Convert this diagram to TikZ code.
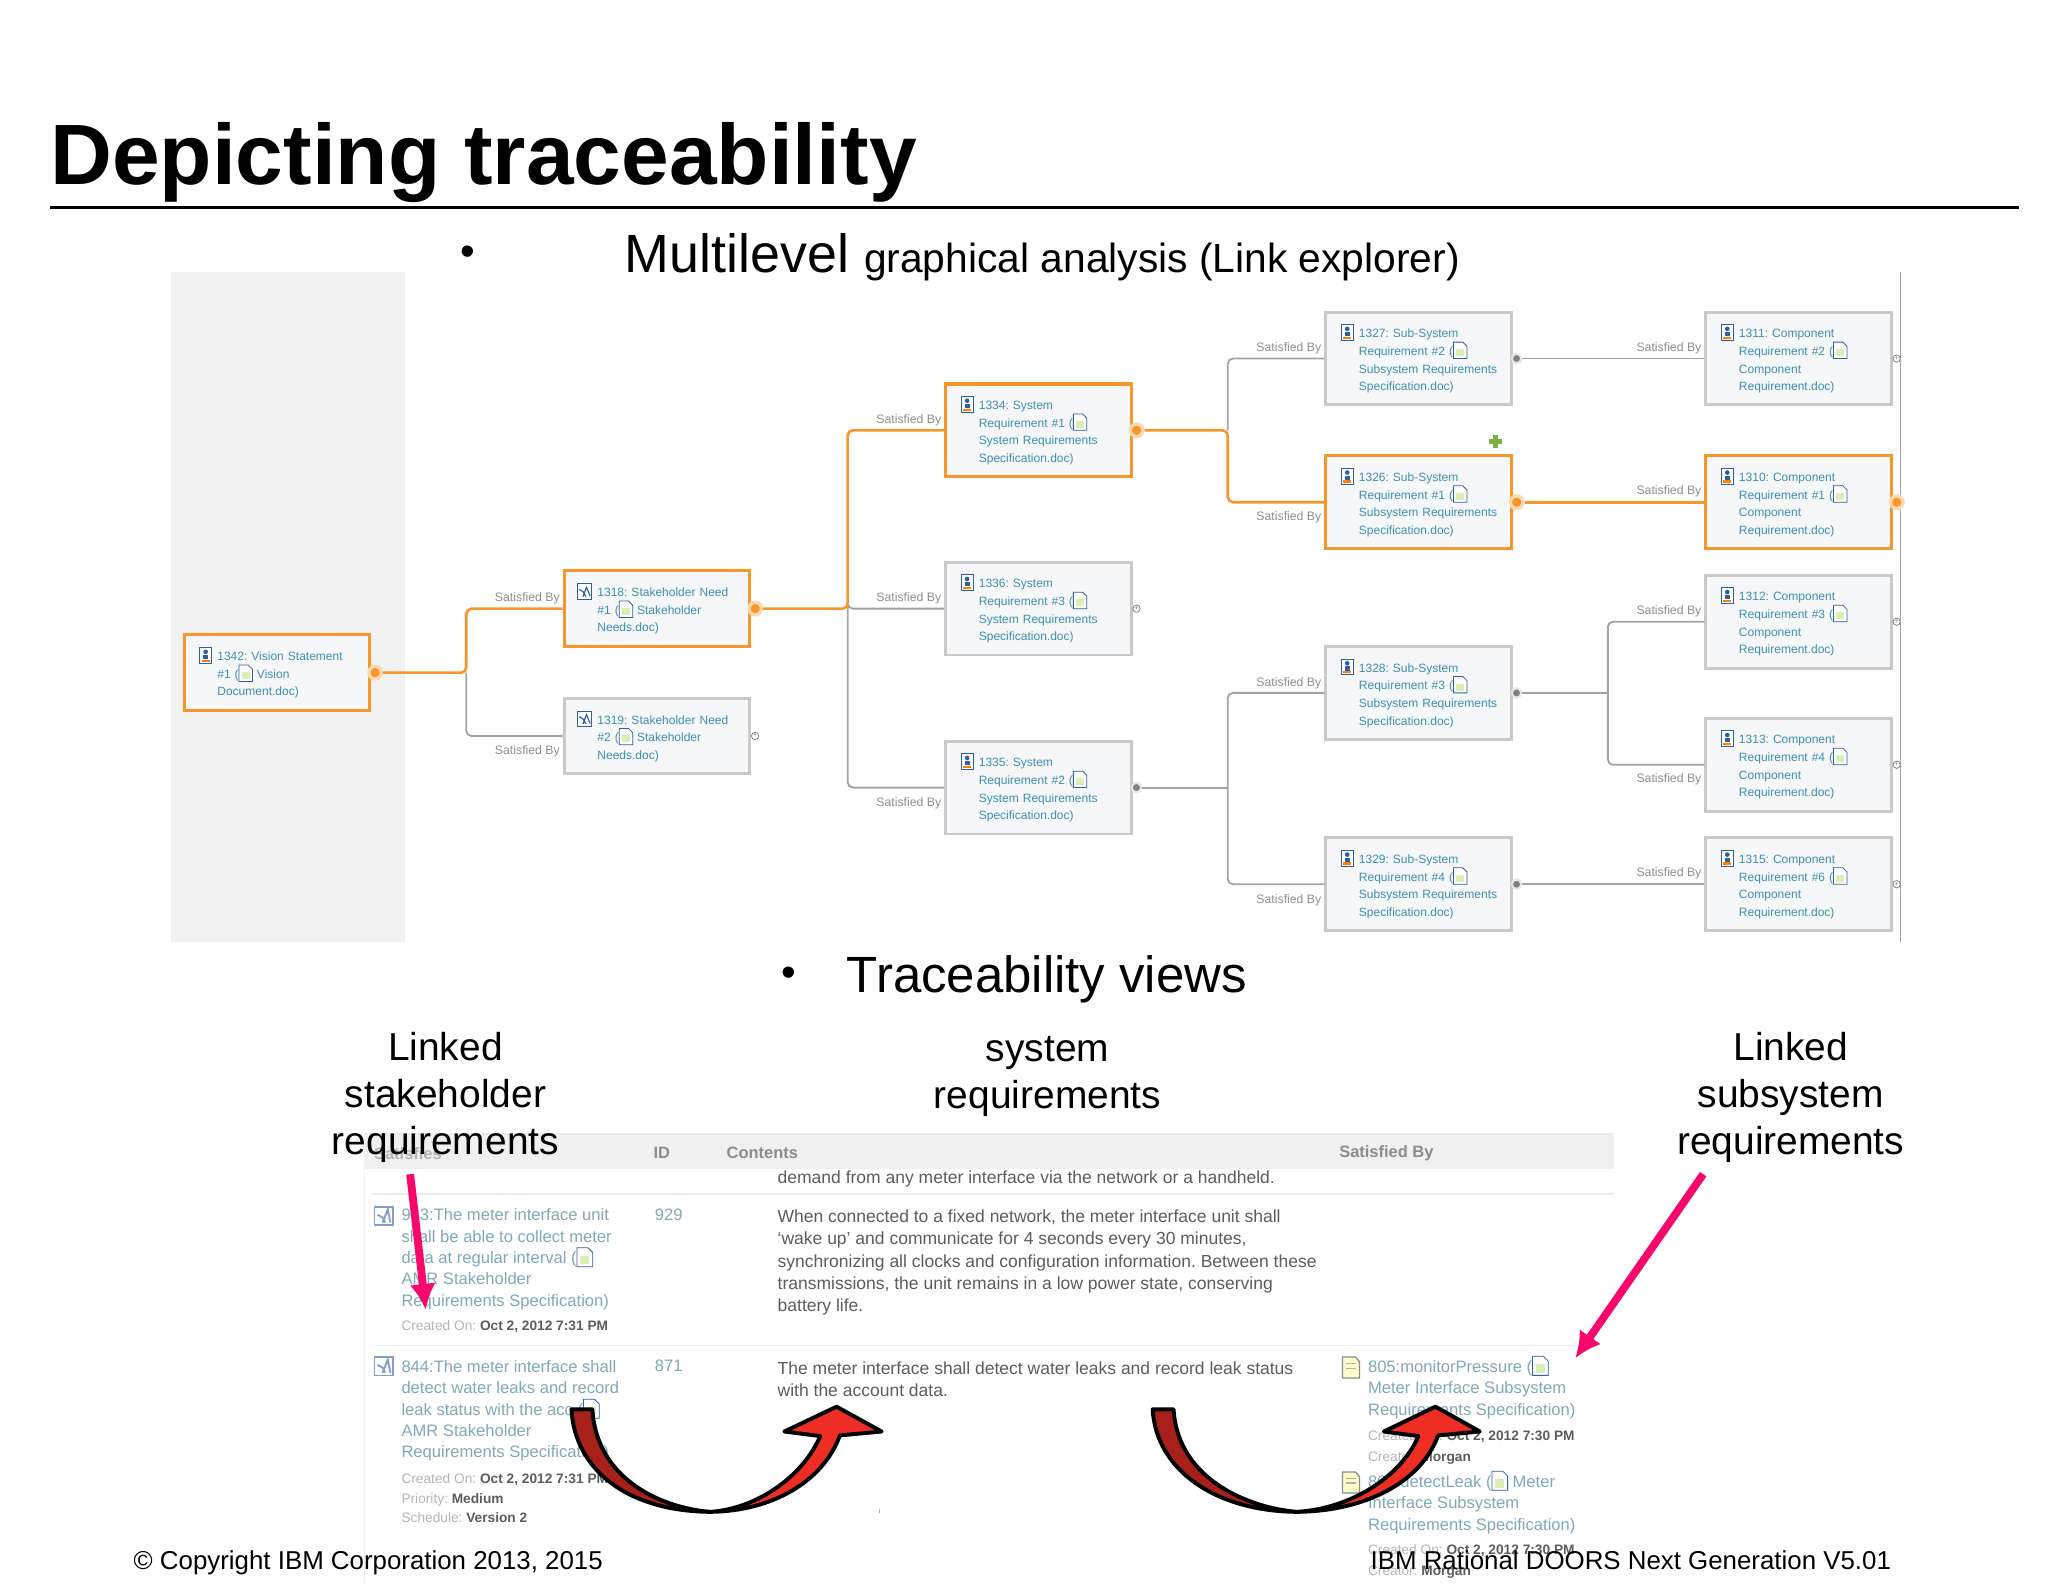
\documentclass[tikz,border=0pt]{standalone}
\usepackage{fontspec}
\setmainfont{Liberation Sans}
\frenchspacing
\usepackage{tikz}
\usetikzlibrary{arrows.meta}

\definecolor{reqgray}{HTML}{C9C9C9}
\definecolor{reqfill}{HTML}{F6F7F8}
\definecolor{reqorange}{HTML}{F6962B}
\definecolor{halo}{HTML}{FBD9B0}
\definecolor{linkgray}{HTML}{A3A3A3}
\definecolor{sattext}{HTML}{8E8E8E}
\definecolor{reqtext}{HTML}{3E8FB0}
\definecolor{panel}{HTML}{F2F2F2}
\definecolor{rowtext}{HTML}{5C5C5C}
\definecolor{rowlink}{HTML}{7FA9B8}
\definecolor{rowfaint}{HTML}{B4B4B4}
\definecolor{headfill}{HTML}{F0F0F0}
\definecolor{pinkarrow}{HTML}{F8086A}
\definecolor{darkred}{HTML}{A8201A}
\definecolor{brightred}{HTML}{EE2E24}
\definecolor{iconblue}{HTML}{2F5F9E}
\definecolor{plusgreen}{HTML}{7DB040}

% small icons set inside the node texts
\newcommand{\docu}[1][1.12]{\raisebox{-1.2pt}[0pt][0pt]{\tikz[baseline=0pt,x=1pt,y=1pt,scale=#1]{%
  \fill[white] (0,0) rectangle (4.6,5.6);
  \fill[yellow!50!green!30] (1,0.8) rectangle (3.6,3.2);
  \draw[iconblue,line width=0.3pt] (0,0) -- (4.6,0) -- (4.6,4.2) -- (3.2,5.6) -- (0,5.6) -- cycle;}}}
\newcommand{\pers}{\llap{\raisebox{-1pt}[0pt][0pt]{\tikz[baseline=0pt,x=1pt,y=1pt]{%
  \draw[iconblue,fill=white,line width=0.35pt] (0,0) rectangle (4.6,6);
  \fill[iconblue] (2.3,4.4) circle (0.9);
  \fill[iconblue] (1.3,1.6) rectangle (3.3,3.2);
  \fill[orange] (0.8,0.5) rectangle (3.8,1.4);}}\hspace{2pt}}}
\newcommand{\chrt}{\llap{\raisebox{-1pt}[0pt][0pt]{\tikz[baseline=0pt,x=1pt,y=1pt]{%
  \draw[iconblue,fill=white,line width=0.35pt] (0,0) rectangle (5.4,6);
  \draw[iconblue,line width=0.45pt] (0.6,3.8) -- (2,3) -- (3.2,1) (2,1) -- (3.4,4.6) -- (4.8,1.2);}}\hspace{2pt}}}
\newcommand{\pagei}{\tikz[x=1pt,y=1pt]{\draw[black!45,fill=yellow!20,line width=0.5pt] (0,0) -- (6.5,0) -- (6.5,6.2) -- (5,8) -- (0,8) -- cycle; \draw[black!30,line width=0.4pt] (1.4,5.5) -- (5,5.5) (1.4,3.8) -- (5,3.8);}}
\newcommand{\charti}{\tikz[x=1pt,y=1pt]{\draw[iconblue!60,fill=white,line width=0.5pt] (0,0) rectangle (7,7); \draw[iconblue!60,line width=0.7pt] (1,4) -- (3,3) -- (4,1) (3,1) -- (5,6) -- (6,1);}}
\newcommand{\rowval}[1]{\textcolor{rowtext}{\textbf{#1}}}

\begin{document}
\begin{tikzpicture}[>=latex,x=0.5pt,y=-0.5pt]
      \tikzstyle{req}=[rectangle,draw=reqgray,fill=reqfill,line width=1.1pt,minimum width=71pt,minimum height=35.5pt,text width=69pt,inner xsep=1pt,inner ysep=0pt,align=left,text=reqtext,font=\fontsize{4.6}{6.75}\selectfont,execute at begin node={\leftskip=11.7pt\relax\rule{0pt}{5.3pt}}];
      \tikzstyle{reqs}=[req,minimum height=29pt];
      \tikzstyle{sel}=[draw=reqorange,line width=1.2pt];
      \tikzstyle{sat}=[anchor=east,inner sep=0pt,text=sattext,font=\fontsize{4.7}{6}\selectfont];
      \tikzstyle{link}=[draw=linkgray,line width=0.7pt,rounded corners=2pt];
      \tikzstyle{linksel}=[draw=reqorange,line width=1pt,rounded corners=2pt];
      \tikzstyle{dotsel}=[circle,fill=reqorange,draw=halo,line width=1.3pt,minimum size=4.8pt,inner sep=0pt];
      \tikzstyle{dotgray}=[circle,fill=gray,draw=black!10,line width=0.8pt,minimum size=3.6pt,inner sep=0pt];
      \tikzstyle{dotplus}=[circle,fill=white,draw=gray,line width=0.3pt,minimum size=2.8pt,inner sep=0pt,text=gray,font=\fontsize{2.6}{2.6}\selectfont];
      \tikzstyle{slide}=[anchor=base west,inner sep=0pt,text=black];
      \tikzstyle{caption}=[align=center,inner sep=0pt,text=black,font=\fontsize{14.9}{18}\selectfont];
      \tikzstyle{foot}=[anchor=base west,inner sep=0pt,text=black,font=\fontsize{9.9}{11}\selectfont];
      \tikzstyle{head}=[anchor=west,inner sep=0pt,text=black!45,font=\fontsize{6.3}{8}\selectfont\bfseries];
      \tikzstyle{rowt}=[anchor=north west,align=left,inner sep=0pt,text=rowtext,font=\fontsize{6.7}{8.5}\selectfont];
      \tikzstyle{rowl}=[anchor=north west,align=left,inner sep=0pt,text=rowlink,font=\fontsize{6.35}{8.2}\selectfont];
      \tikzstyle{rowc}=[rowt,text=rowfaint,font=\fontsize{5.25}{7.5}\selectfont];
      \tikzstyle{rowd}=[rowt,text=rowfaint,font=\fontsize{5.25}{8}\selectfont];
      \tikzstyle{pink}=[draw=pinkarrow,line width=3pt,-{Latex[length=10pt,width=10pt]}];
      \tikzstyle{bent}=[draw=black,line width=1.5pt,line join=round];

      \useasboundingbox (0,0) rectangle (1568,1213);

      % title
      \node[slide,font=\fontsize{32.8}{36}\selectfont\bfseries](title) at (38,141) {Depicting traceability};
      \draw[line width=1.2pt] (38,159) -- (1546,159);
      \node[slide,font=\fontsize{16}{18}\selectfont](bullet1) at (352,203) {•};
      \node[slide](multi) at (478,209) {\fontsize{20.6}{24}\selectfont Multilevel \fontsize{15.6}{20}\selectfont graphical analysis (Link explorer)};

      % link explorer
      \path[fill=panel] (131,208) rectangle (310,721);
      \draw[linkgray,line width=0.5pt] (1455,208) -- (1455,721);

      \node[reqs,sel](R1342) at (212,515) {\pers 1342: Vision Statement\\\#1 (\docu\ Vision\\Document.doc)};
      \node[reqs,sel](R1318) at (503,466) {\chrt 1318: Stakeholder Need\\\#1 (\docu\ Stakeholder\\Needs.doc)};
      \node[reqs](R1319) at (503,563.5) {\chrt 1319: Stakeholder Need\\\#2 (\docu\ Stakeholder\\Needs.doc)};
      \node[req,sel](R1334) at (795,329.5) {\pers 1334: System\\Requirement \#1 (\docu\\System Requirements\\Specification.doc)};
      \node[req](R1336) at (795,466) {\pers 1336: System\\Requirement \#3 (\docu\\System Requirements\\Specification.doc)};
      \node[req](R1335) at (795,603) {\pers 1335: System\\Requirement \#2 (\docu\\System Requirements\\Specification.doc)};
      \node[req](R1327) at (1086,274.5) {\pers 1327: Sub-System\\Requirement \#2 (\docu\\Subsystem Requirements\\Specification.doc)};
      \node[req,sel](R1326) at (1086,384.5) {\pers 1326: Sub-System\\Requirement \#1 (\docu\\Subsystem Requirements\\Specification.doc)};
      \node[req](R1328) at (1086,530.5) {\pers 1328: Sub-System\\Requirement \#3 (\docu\\Subsystem Requirements\\Specification.doc)};
      \node[req](R1329) at (1086,677) {\pers 1329: Sub-System\\Requirement \#4 (\docu\\Subsystem Requirements\\Specification.doc)};
      \node[req](R1311) at (1377,274.5) {\pers 1311: Component\\Requirement \#2 (\docu\\Component\\Requirement.doc)};
      \node[req,sel](R1310) at (1377,384.5) {\pers 1310: Component\\Requirement \#1 (\docu\\Component\\Requirement.doc)};
      \node[req](R1312) at (1377,476) {\pers 1312: Component\\Requirement \#3 (\docu\\Component\\Requirement.doc)};
      \node[req](R1313) at (1377,585.5) {\pers 1313: Component\\Requirement \#4 (\docu\\Component\\Requirement.doc)};
      \node[req](R1315) at (1377,677) {\pers 1315: Component\\Requirement \#6 (\docu\\Component\\Requirement.doc)};

      \node[dotsel](D1342) at ([xshift=1.5pt]R1342.east) {};
      \node[dotsel](D1318) at ([xshift=1.5pt]R1318.east) {};
      \node[dotsel](D1334) at ([xshift=1.5pt]R1334.east) {};
      \node[dotsel](D1326) at ([xshift=1.5pt]R1326.east) {};
      \node[dotsel](D1310) at ([xshift=1.5pt]R1310.east) {};
      \node[dotgray](D1327) at ([xshift=1.5pt]R1327.east) {};
      \node[dotgray](D1328) at ([xshift=1.5pt]R1328.east) {};
      \node[dotgray](D1329) at ([xshift=1.5pt]R1329.east) {};
      \node[dotgray](D1335) at ([xshift=1.5pt]R1335.east) {};
      \node[dotplus](D1319) at ([xshift=1.5pt]R1319.east) {+};
      \node[dotplus](D1336) at ([xshift=1.5pt]R1336.east) {+};
      \node[dotplus](D1311) at ([xshift=1.5pt]R1311.east) {+};
      \node[dotplus](D1312) at ([xshift=1.5pt]R1312.east) {+};
      \node[dotplus](D1313) at ([xshift=1.5pt]R1313.east) {+};
      \node[dotplus](D1315) at ([xshift=1.5pt]R1315.east) {+};

      \coordinate (J1) at (357,515);
      \coordinate (J2) at (649,466);
      \coordinate (J3) at (940,329.5);
      \coordinate (J4) at (940,603);
      \coordinate (J5) at (1231,530.5);

      \draw[link] (J1) |- (R1319);
      \draw[link] (J2) |- (R1336);
      \draw[link] (J2) |- (R1335);
      \draw[link] (J3) |- (R1327);
      \draw[link] (D1335) -- (J4);
      \draw[link] (J4) |- (R1328);
      \draw[link] (J4) |- (R1329);
      \draw[link] (D1328) -- (J5);
      \draw[link] (J5) |- (R1312);
      \draw[link] (J5) |- (R1313);
      \path[link] (D1327) edge (R1311);
      \path[link] (D1329) edge (R1315);
      \draw[linksel] (D1342) -- (J1) |- (R1318);
      \draw[linksel] (D1318) -- (J2) |- (R1334);
      \draw[linksel] (D1334) -- (J3) |- (R1326);
      \path[linksel] (D1326) edge (R1310);

      \node[sat](S1318) at (429,458) {Satisfied By};
      \node[sat](S1319) at (429,575) {Satisfied By};
      \node[sat](S1334) at (721,322) {Satisfied By};
      \node[sat](S1336) at (721,458) {Satisfied By};
      \node[sat](S1335) at (721,615) {Satisfied By};
      \node[sat](S1327) at (1012,267) {Satisfied By};
      \node[sat](S1326) at (1012,396) {Satisfied By};
      \node[sat](S1328) at (1012,523) {Satisfied By};
      \node[sat](S1329) at (1012,689) {Satisfied By};
      \node[sat](S1311) at (1303,267) {Satisfied By};
      \node[sat](S1310) at (1303,376) {Satisfied By};
      \node[sat](S1312) at (1303,468) {Satisfied By};
      \node[sat](S1313) at (1303,597) {Satisfied By};
      \node[sat](S1315) at (1303,669) {Satisfied By};

      \draw[plusgreen,line width=2pt] (1140,338) -- (1150,338) (1145,333) -- (1145,343);

      % traceability view
      \node[slide,font=\fontsize{16}{18}\selectfont](bullet2) at (598,755) {•};
      \node[slide,font=\fontsize{19.5}{22}\selectfont](views) at (648,760) {Traceability views};

      \path[fill=headfill] (279,869) rectangle (1236,895);
      \draw[black!8,line width=0.8pt] (279,868) -- (1236,868);
      \draw[black!8,line width=0.6pt] (285,914) -- (1236,914);
      \draw[black!6,line width=0.6pt] (285,1030) -- (1210,1030);
      \draw[black!5,line width=0.5pt] (279,895) -- (279,1213);

      \node[head,text=rowfaint](Hsat) at (286,883) {Satisfies};
      \node[head](Hid) at (500,883) {ID};
      \node[head](Hcon) at (556,883) {Contents};
      \node[head](Hby) at (1025,883) {Satisfied By};

      \node[rowt](Tdemand) at (595,896) {demand from any meter interface via the network or a handheld.};
      \node[rowt](Twake) at (595,926) {When connected to a fixed network, the meter interface unit shall\\`wake up' and communicate for 4 seconds every 30 minutes,\\synchronizing all clocks and configuration information. Between these\\transmissions, the unit remains in a low power state, conserving\\battery life.};
      \node[rowt](Tleak) at (595,1042) {The meter interface shall detect water leaks and record leak status\\with the account data.};

      \node[rowl](N929) at (501,925) {929};
      \node[rowl](N871) at (501,1041) {871};

      \node[anchor=west,inner sep=0pt](Ileft1) at (286,931) {\charti};
      \node[anchor=west,inner sep=0pt](Ileft2) at (286,1046) {\charti};
      \node[anchor=west,inner sep=0pt](Iright1) at (1027,1047) {\pagei};
      \node[anchor=west,inner sep=0pt](Iright2) at (1027,1135) {\pagei};

      \node[rowl](Lone) at (307,925) {933:The meter interface unit\\shall be able to collect meter\\data at regular interval (\docu[1.3]\\AMR Stakeholder\\Requirements Specification)};
      \node[rowc](Lonec) at (307,1011) {Created On: \rowval{Oct 2, 2012 7:31 PM}};
      \node[rowl](Ltwo) at (307,1041) {844:The meter interface shall\\detect water leaks and record\\leak status with the acc (\docu[1.3]\\AMR Stakeholder\\Requirements Specification)};
      \node[rowc](Ltwoc) at (307,1128) {Created On: \rowval{Oct 2, 2012 7:31 PM}\\Priority: \rowval{Medium}\\Schedule: \rowval{Version 2}};

      \node[rowl](Rone) at (1047,1041) {805:monitorPressure (\docu[1.3]\\Meter Interface Subsystem\\Requirements Specification)};
      \node[rowd](Ronec) at (1047,1095) {Created On: \rowval{Oct 2, 2012 7:30 PM}\\Creator: \rowval{Morgan}};
      \node[rowl](Rtwo) at (1047,1129) {806:detectLeak (\docu[1.3]\ Meter\\Interface Subsystem\\Requirements Specification)};
      \node[rowd](Rtwoc) at (1047,1182) {Created On: \rowval{Oct 2, 2012 7:30 PM}\\Creator: \rowval{Morgan}};

      \draw[rowfaint,line width=0.4pt] (673,1155) -- (673,1158);

      % captions
      \node[caption](Cstake) at (341,840) {Linked\\stakeholder\\requirements};
      \node[caption](Csys) at (802,824) {system\\requirements};
      \node[caption](Csub) at (1371,840) {Linked\\subsystem\\requirements};

      % pink arrows
      \coordinate (P1) at (314,899);
      \coordinate (P2) at (326,1003);
      \coordinate (P3) at (1304,899);
      \coordinate (P4) at (1206,1040);
      \draw[pink] (P1) -- (P2);
      \draw[pink] (P3) -- (P4);

      % bent arrows
      \path[bent,fill=darkred] (437.5,1079) .. controls (440,1125) and (480,1157) .. (544,1157.5) .. controls (510,1155) and (457,1135) .. (453.5,1079) -- cycle;
      \path[bent,fill=brightred] (544,1157.5) .. controls (590,1157) and (630,1135) .. (643,1099) -- (675,1096) -- (640.5,1077) -- (600.5,1096) -- (628,1099.5) .. controls (615,1130) and (580,1155) .. (544,1157.5) -- cycle;
      \path[bent,fill=darkred] (882.5,1079) .. controls (885,1125) and (930,1157) .. (993,1157.5) .. controls (960,1155) and (902,1135) .. (898.5,1079) -- cycle;
      \path[bent,fill=brightred] (993,1157.5) .. controls (1045,1157) and (1088,1135) .. (1101,1099) -- (1133,1096) -- (1099,1077) -- (1059.5,1096) -- (1086,1099.5) .. controls (1073,1130) and (1035,1155) .. (993,1157.5) -- cycle;

      % footer
      \node[foot](Fleft) at (102,1202) {© Copyright IBM Corporation 2013, 2015};
      \node[foot](Fright) at (1049,1202) {IBM Rational DOORS Next Generation V5.01};

    \end{tikzpicture}
\end{document}
